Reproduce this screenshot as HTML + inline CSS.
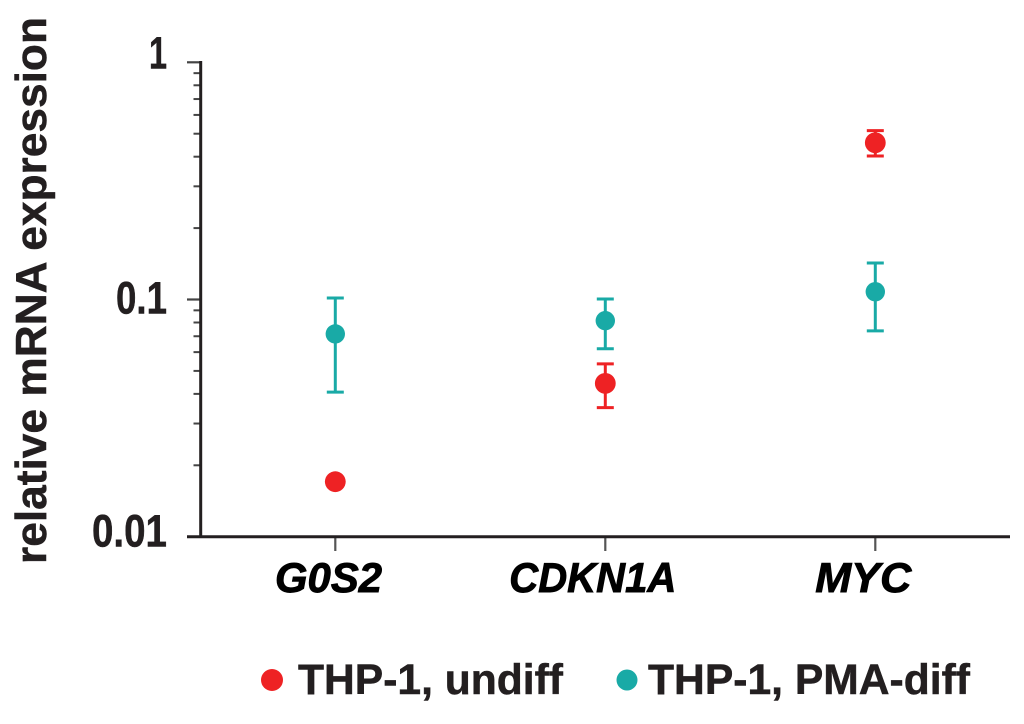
<!DOCTYPE html>
<html>
<head>
<meta charset="utf-8">
<title>Relative mRNA expression</title>
<style>
html,body{margin:0;padding:0;background:#fff;width:1024px;height:724px;overflow:hidden}
svg{display:block}
text{font-family:"Liberation Sans",sans-serif;font-weight:bold;fill:#231f20;stroke:#231f20;stroke-width:0.5px}
</style>
</head>
<body>
<svg id="chart" width="1024" height="724" viewBox="0 0 1024 724" xmlns="http://www.w3.org/2000/svg">
  <rect x="0" y="0" width="1024" height="724" fill="#fff"/>
  <g id="ticks"></g>
  <line x1="200.7" y1="61" x2="200.7" y2="538" stroke="#231f20" stroke-width="3"/>
  <line x1="187" y1="536.7" x2="1010" y2="536.7" stroke="#231f20" stroke-width="3"/>
  <g id="labels"></g>
  <g id="marks"></g>
  <text transform="translate(46,564) rotate(-90)" font-size="44" textLength="547" lengthAdjust="spacingAndGlyphs">relative mRNA expression</text>
  <g>
    <g>
      <circle cx="272" cy="680" r="11" fill="#ee2224"/>
      <text x="298" y="694" font-size="42.5" textLength="265" lengthAdjust="spacingAndGlyphs">THP-1, undiff</text>
    </g>
    <g>
      <circle cx="627" cy="680" r="10.5" fill="#19aaa6"/>
      <text x="648" y="694" font-size="42.5" textLength="322" lengthAdjust="spacingAndGlyphs">THP-1, PMA-diff</text>
    </g>
  </g>
</svg>
<script>
var categories = ["G0S2", "CDKN1A", "MYC"];
var undiffValues = [0.01706, 0.0443, 0.458];
var undiffHigh = [null, 0.0535, 0.515];
var undiffLow = [null, 0.0350, 0.4027];
var pmaValues = [0.0716, 0.0814, 0.1078];
var pmaHigh = [0.1015, 0.1005, 0.1425];
var pmaLow = [0.0407, 0.0620, 0.0737];
var yTickValues = [1, 0.1, 0.01];
var yTickLabels = ["1", "0.1", "0.01"];
var minorMultipliers = [2, 3, 4, 5, 6, 7, 8, 9];

var NS = "http://www.w3.org/2000/svg";
function yScale(v) { return 62.3 - Math.log10(v) * 237.2; }
function xScale(i) { return 335.3 + i * 270; }
function yLabelNudge(i) { return i === 0 ? 6 : i === 1 ? 14 : 10; }
function yLabelWidth(i) { return i === 0 ? 18 : i === 1 ? 51 : 75; }
function xLabelNudge(i) { return i === 0 ? -6.8 : i === 1 ? -12.5 : -12; }
function xLabelWidth(i) { return i === 0 ? 107 : i === 1 ? 167 : 96; }
function mk(parent, tag, attrs) {
  var el = document.createElementNS(NS, tag);
  for (var k in attrs) el.setAttribute(k, attrs[k]);
  parent.appendChild(el);
  return el;
}
var ticks = document.getElementById("ticks");
var labels = document.getElementById("labels");
var marks = document.getElementById("marks");
var AX = 200.7;

yTickValues.forEach(function (v, i) {
  var y = yScale(v);
  var t = mk(ticks, "line", {x1: 187, x2: AX, y1: y, y2: y, stroke: "#444", "stroke-width": 2.2});
  
  
  var txt = mk(labels, "text", {x: 167, y: y + yLabelNudge(i), "text-anchor": "end", "font-size": 45});
  txt.textContent = yTickLabels[i];
  
  
  txt.setAttribute("textLength", yLabelWidth(i));
  txt.setAttribute("lengthAdjust", "spacingAndGlyphs");
  if (i < yTickValues.length - 1) {
    minorMultipliers.forEach(function (m) {
      var my = yScale(v * 0.1 * m);
      var mt = mk(ticks, "line", {x1: 193.5, x2: AX, y1: my, y2: my, stroke: "#444", "stroke-width": 2});
      
      
    });
  }
});

categories.forEach(function (c, i) {
  var x = xScale(i);
  var t = mk(ticks, "line", {x1: x, x2: x, y1: 536.7, y2: 551, stroke: "#555", "stroke-width": 2.2});
  
  
  var txt = mk(labels, "text", {x: x + xLabelNudge(i), y: 592, "text-anchor": "middle", "font-size": 42, "font-style": "italic", style: "fill:#000;stroke:#000;stroke-width:0.9px"});
  txt.textContent = c;
  
  
  txt.setAttribute("textLength", xLabelWidth(i));
  txt.setAttribute("lengthAdjust", "spacingAndGlyphs");
});

function drawErr(i, hi, lo, color) {
  if (hi === null || lo === null) return;
  var x = xScale(i), yh = yScale(hi), yl = yScale(lo);
  var g = mk(marks, "g", {stroke: color, "stroke-width": 3, fill: "none"});
  
  
  mk(g, "line", {x1: x, x2: x, y1: yh, y2: yl});
  mk(g, "line", {x1: x - 8.5, x2: x + 8.5, y1: yh, y2: yh});
  mk(g, "line", {x1: x - 8.5, x2: x + 8.5, y1: yl, y2: yl});
}
function drawPoint(i, v, color, r, name) {
  var c = mk(marks, "circle", {cx: xScale(i), cy: yScale(v), r: r, fill: color});
  
  
}
categories.forEach(function (c, i) {
  drawErr(i, undiffHigh[i], undiffLow[i], "#ee2224");
  drawPoint(i, undiffValues[i], "#ee2224", 10.4, "point-undiff");
  drawErr(i, pmaHigh[i], pmaLow[i], "#19aaa6");
  drawPoint(i, pmaValues[i], "#19aaa6", 9.7, "point-pma-diff");
});
</script>
</body>
</html>
